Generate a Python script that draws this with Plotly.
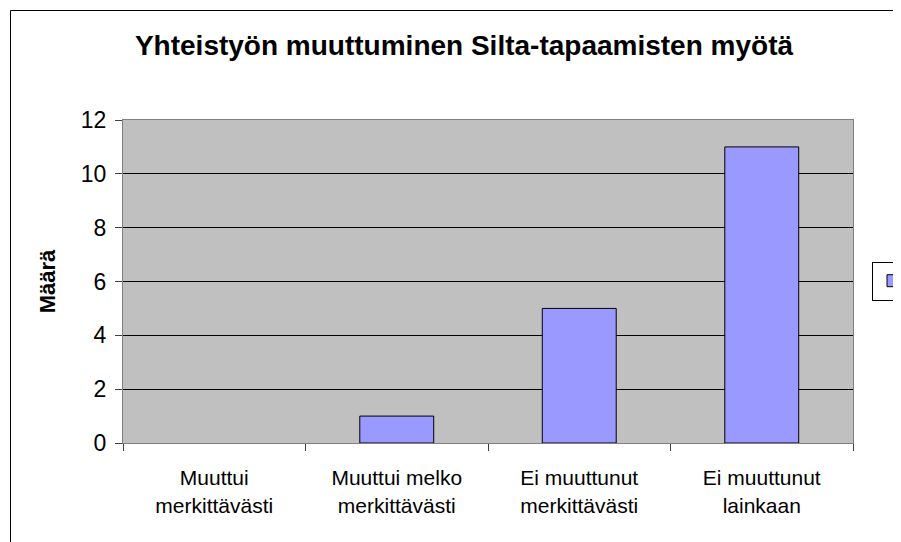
import plotly.graph_objects as go

title_text = "Yhteistyön muuttuminen Silta-tapaamisten myötä"
y_title = "Määrä"
categories = ["Muuttui<br>merkittävästi", "Muuttui melko<br>merkittävästi",
              "Ei muuttunut<br>merkittävästi", "Ei muuttunut<br>lainkaan"]
values = [0, 1, 5, 11]
series_name = " "

W, H = 901, 542
OFF = 8  # page body margin in the browser
PX_L, PX_T, PW, PH = 123, 120, 730, 323  # target plot area in screenshot px
L, T = PX_L - OFF, PX_T - OFF
R, B = W - L - PW, H - T - PH

def px_x(p):
    return (p - PX_L) / PW

def px_y(p):
    return (PX_T + PH - p) / PH

# zero-height bars are not drawn in the original (no outline at 0)
plot_values = [v if v != 0 else None for v in values]

fig = go.Figure()
fig.add_trace(go.Bar(
    x=categories, y=plot_values, name=series_name,
    marker=dict(color="#9999FF", line=dict(color="black", width=1)),
    showlegend=True,
))

font_family = "Liberation Sans, Arial, sans-serif"

fig.update_layout(
    width=W, height=H,
    margin=dict(l=L, r=R, t=T, b=B, autoexpand=False),
    paper_bgcolor="white",
    plot_bgcolor="#C0C0C0",
    bargap=0.595,
    font=dict(family=font_family, color="black"),
    title=dict(text="<b>" + title_text + "</b>", x=px_x(464), xref="paper",
               xanchor="center", y=1 - (45 - OFF) / H, yref="container", yanchor="middle",
               font=dict(size=28, family=font_family, color="black")),
    xaxis=dict(
        type="category", tickson="boundaries", ticks="outside", ticklen=7,
        tickcolor="#404040", showline=True, linecolor="#808080", mirror=True,
        tickfont=dict(size=21, family=font_family, color="black"),
        showgrid=False, ticklabelstandoff=16,
    ),
    yaxis=dict(
        range=[0, 12], dtick=2, ticks="outside", ticklen=7, tickcolor="#404040",
        showline=True, linecolor="#808080", mirror=True,
        gridcolor="black", gridwidth=1, zeroline=False,
        tickfont=dict(size=23, family=font_family, color="black"),
        ticklabelstandoff=4,
        title=dict(text="<b>" + y_title + "</b>", standoff=19,
                   font=dict(size=22, family=font_family, color="black")),
    ),
    legend=dict(
        x=px_x(872), xanchor="left", y=px_y(281), yanchor="middle",
        bordercolor="black", borderwidth=1, bgcolor="white",
        font=dict(size=18, family=font_family),
    ),
    shapes=[dict(
        type="rect", xref="paper", yref="paper",
        x0=px_x(10.5), x1=px_x(960), y0=px_y(600), y1=px_y(10.5),
        line=dict(color="black", width=1), fillcolor="rgba(0,0,0,0)", layer="below",
    )],
)

fig.write_html("out.html")
